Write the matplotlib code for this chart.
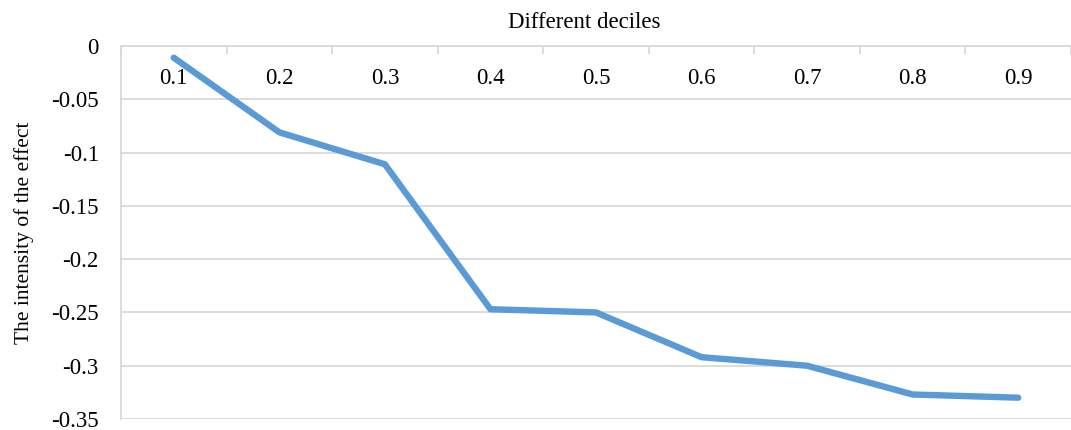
import matplotlib
matplotlib.use("Agg")
import matplotlib.pyplot as plt

# ----- Data -----
deciles = ["0.1", "0.2", "0.3", "0.4", "0.5", "0.6", "0.7", "0.8", "0.9"]
effect = [-0.011, -0.081, -0.111, -0.247, -0.250, -0.292, -0.300, -0.327, -0.330]
yticks = [0, -0.05, -0.1, -0.15, -0.2, -0.25, -0.3, -0.35]
ytick_labels = ["0", "-0.05", "-0.1", "-0.15", "-0.2", "-0.25", "-0.3", "-0.35"]

plt.rcParams["font.family"] = ["Liberation Serif", "DejaVu Serif"]
grid_color = "#D9D9D9"

fig = plt.figure(figsize=(10.71, 4.30), dpi=100)
ax = fig.add_axes([121 / 1071, 11 / 430, 950 / 1071, 373 / 430])

x = list(range(len(deciles)))
ax.plot(x, effect, color="#5B9BD5", linewidth=4.6, solid_capstyle="round",
        solid_joinstyle="round", zorder=3)

ax.set_xlim(-0.5, len(deciles) - 0.5)
ax.set_ylim(-0.35, 0)
ax.set_yticks(yticks)
ax.set_yticklabels(ytick_labels, fontsize=16.5)
ax.yaxis.grid(True, color=grid_color, linewidth=1.3)
ax.set_axisbelow(True)

# category axis sits at the top (value 0)
ax.xaxis.tick_top()
ax.set_xticks(x)
ax.set_xticklabels(deciles, fontsize=16.5)
ax.tick_params(axis="x", which="major", length=0, pad=-31)
ax.set_xticks([i + 0.5 for i in range(-1, len(deciles))], minor=True)
ax.tick_params(axis="x", which="minor", direction="in", length=6,
               color=grid_color, width=1.3, top=True, bottom=False)
ax.tick_params(axis="y", length=0, pad=16)

for side in ["right", "bottom"]:
    ax.spines[side].set_visible(False)
for side in ["left", "top"]:
    ax.spines[side].set_color(grid_color)
    ax.spines[side].set_linewidth(1.3)

ax.set_ylabel("The intensity of the effect", fontsize=15.5, labelpad=12)
fig.text(584 / 1071, 1 - 22 / 430, "Different deciles", fontsize=16.5,
         ha="center", va="center")

fig.savefig("out.png", dpi=100)
